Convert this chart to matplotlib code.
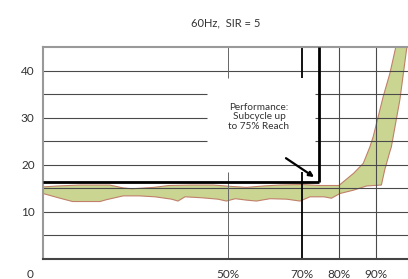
#!/usr/bin/env python3
"""Reach chart: operating time band vs. percent of line reach (60Hz, SIR = 5)."""

import matplotlib
matplotlib.use("Agg")
import matplotlib.pyplot as plt

TITLE = "60Hz,  SIR = 5"
NOTE = "Performance:\nSubcycle up\nto 75% Reach"

# band edges (x = % reach, y = time)
upper_x = [0, 4, 10, 18, 21.6, 24, 26, 30, 34, 40, 46, 51, 55, 59.6, 64, 70,
           75, 80, 84, 86.6, 88.4, 89.3, 92, 93.8, 95.4]
upper_y = [15.3, 15.5, 15.7, 15.7, 15.1, 14.9, 15.0, 15.2, 15.6, 15.7, 15.7,
           15.4, 15.2, 15.5, 15.7, 15.8, 15.6, 15.6, 18.2, 20.3, 23.8, 26.0,
           34.5, 39.4, 45.0]
lower_x = [0, 4.6, 8, 15.4, 17.2, 21.7, 26, 30.3, 34.8, 36.5, 38.4, 42.9, 47.3,
           49.6, 52, 55, 57.7, 61.4, 65.9, 69.5, 72.2, 76, 78, 80.3, 83.9, 87.5,
           91.5, 92.4, 93.8, 94.2, 96.5, 98.4]
lower_y = [13.9, 12.9, 12.2, 12.2, 12.6, 13.4, 13.4, 13.2, 12.7, 12.3, 13.2,
           13.0, 12.7, 12.3, 12.8, 12.5, 12.3, 12.8, 12.7, 12.3, 13.2, 13.2, 12.9,
           13.9, 14.6, 15.5, 15.7, 18.9, 22.8, 23.8, 33.8, 45.0]

y_ticks = [10, 20, 30, 40]
x_ticks = [50, 70, 80, 90]
x_tick_labels = ["50%", "70%", "80%", "90%"]

# performance target: 75% reach, time limit
target_reach = 74.5
target_time = 16.4

plt.rcParams["font.family"] = ["Lato", "DejaVu Sans"]
TEXT = "#333333"


def draw_grid(ax):
    """Thin grid; some lines stop short of the note area."""
    gap_x = (44.3, 73.6)
    gap_y = (18.5, 38.4)
    for y in [5, 10, 15, 20, 40]:
        ax.hlines(y, 0, 100, color="#4a4a4a", lw=0.8, zorder=2)
    for y in [25, 30, 35]:
        ax.hlines(y, 0, gap_x[0], color="#4a4a4a", lw=0.8, zorder=2)
        ax.hlines(y, gap_x[1], 100, color="#4a4a4a", lw=0.8, zorder=2)
    for x in [80, 90]:
        ax.vlines(x, 0, 45, color="#4a4a4a", lw=0.8, zorder=2)
    for x, c, w in [(50, "#666666", 0.7), (70, "black", 1.3)]:
        ax.vlines(x, 0, gap_y[0], color=c, lw=w, zorder=2)
        ax.vlines(x, gap_y[1], 45, color=c, lw=w, zorder=2)


def main():
    fig = plt.figure(figsize=(4.08, 2.79), dpi=100)
    ax = fig.add_axes([0.1054, 0.0717, 0.8946, 0.7598])

    # band as one polygon: upper edge forward, lower edge back
    poly_x = upper_x + lower_x[::-1]
    poly_y = upper_y + lower_y[::-1]
    ax.fill(poly_x, poly_y, facecolor="#cad592", edgecolor="#c0806a",
            lw=0.8, zorder=1)

    draw_grid(ax)

    ax.hlines(target_time, 0, target_reach, color="black", lw=2, zorder=4)
    ax.vlines(target_reach, target_time, 45, color="black", lw=2, zorder=4)

    ax.text(58.4, 30.2, NOTE, ha="center", va="center", fontsize=7.2,
            color=TEXT, linespacing=1.05, zorder=5)
    ax.annotate("", xy=(73.3, 17.4), xytext=(65.7, 21.4),
                arrowprops=dict(arrowstyle="-|>", color="black", lw=1.6,
                                mutation_scale=7, shrinkA=0, shrinkB=0),
                zorder=5)

    ax.set_xlim(0, 98.7)
    ax.set_ylim(0, 45)
    ax.set_yticks(y_ticks)
    ax.set_xticks(x_ticks)
    ax.set_xticklabels(x_tick_labels)
    ax.tick_params(length=0, labelsize=8.5, labelcolor=TEXT)
    ax.tick_params(axis="y", pad=6)
    ax.tick_params(axis="x", pad=7)
    ax.annotate("0", xy=(0, 0), xycoords=("data", "axes fraction"),
                xytext=(-9.5, -7), textcoords="offset points",
                ha="center", va="top", fontsize=8.5, color=TEXT,
                annotation_clip=False)

    ax.spines["right"].set_visible(False)
    for side in ["left", "top"]:
        ax.spines[side].set_color("#999999")
        ax.spines[side].set_linewidth(1.5)
    ax.spines["bottom"].set_color("#444444")
    ax.spines["bottom"].set_linewidth(1.5)

    ax.set_title(TITLE, fontsize=8, color=TEXT, pad=15)

    fig.savefig("out.png", dpi=100)
    plt.close(fig)


if __name__ == "__main__":
    main()
